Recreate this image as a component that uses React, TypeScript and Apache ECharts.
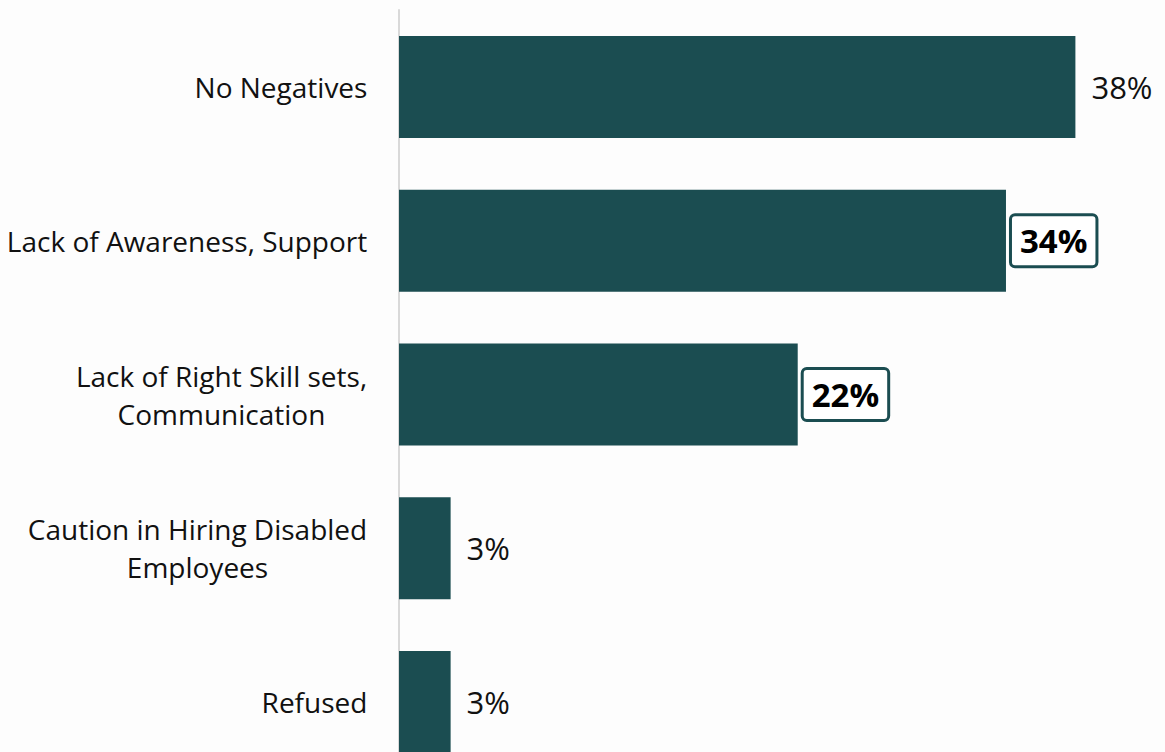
import React, { useEffect, useRef } from "react";
import * as echarts from "echarts";

const categories = [
  "No Negatives",
  "Lack of Awareness, Support",
  "Lack of Right Skill sets,\nCommunication",
  "Caution in Hiring Disabled\nEmployees",
  "Refused",
];
const values = [38, 34.1, 22.4, 2.9, 2.9];
const highlighted = [false, true, true, false, false];

const FONT = '"Open Sans", "Noto Sans", sans-serif';
const BAR = "#1b4d51";
const CAT_SIZE = 28;

function measure(text: string): number {
  const c = document.createElement("canvas").getContext("2d");
  if (!c) return 300;
  c.font = `${CAT_SIZE}px "Open Sans"`;
  return Math.max(...text.split("\n").map((l) => c.measureText(l).width));
}

export default function App() {
  const ref = useRef<HTMLDivElement>(null);
  useEffect(() => {
    if (!ref.current) return;
    const chart = echarts.init(ref.current, undefined, { renderer: "svg" });
    const rich: Record<string, any> = {};
    categories.forEach((c, i) => {
      rich["c" + i] = {
        width: Math.ceil(measure(c)) + 1,
        align: "center",
        fontSize: CAT_SIZE,
        lineHeight: 38,
        fontFamily: FONT,
        color: "#111",
      };
    });
    chart.setOption({
      animation: false,
      backgroundColor: "#fdfdfd",
      grid: { left: 399, width: 712, top: 10, bottom: 1 },
      xAxis: { type: "value", min: 0, max: 40, show: false },
      yAxis: {
        type: "category",
        inverse: true,
        data: categories,
        axisLine: { show: true, lineStyle: { color: "#d9d9d9", width: 2 } },
        axisTick: { show: false },
        axisLabel: {
          margin: 31,
          align: "right",
          formatter: (v: string) => {
            const i = categories.indexOf(v);
            return `{c${i}|${v}}`;
          },
          rich,
        },
      },
      series: [
        {
          type: "bar",
          barCategoryGap: "33.7%",
          itemStyle: { color: BAR },
          label: {
            show: true,
            position: "right",
            distance: 16,
            fontSize: 31,
            fontFamily: FONT,
            color: "#111",
            formatter: (p: any) => Math.round(p.value) + "%",
          },
          data: values.map((v, i) =>
            highlighted[i]
              ? {
                  value: v,
                  label: {
                    distance: 6,
                    fontWeight: "bold",
                    fontSize: 33,
                    color: "#000",
                    borderColor: BAR,
                    borderWidth: 3,
                    borderRadius: 3,
                    padding: [9, 8, 7, 8],
                    backgroundColor: "#ffffff",
                  },
                }
              : { value: v }
          ),
        },
      ],
    });
    return () => chart.dispose();
  }, []);
  return (
    <div
      ref={ref}
      style={{ position: "fixed", left: 0, top: 0, width: 1165, height: 780 }}
    />
  );
}
